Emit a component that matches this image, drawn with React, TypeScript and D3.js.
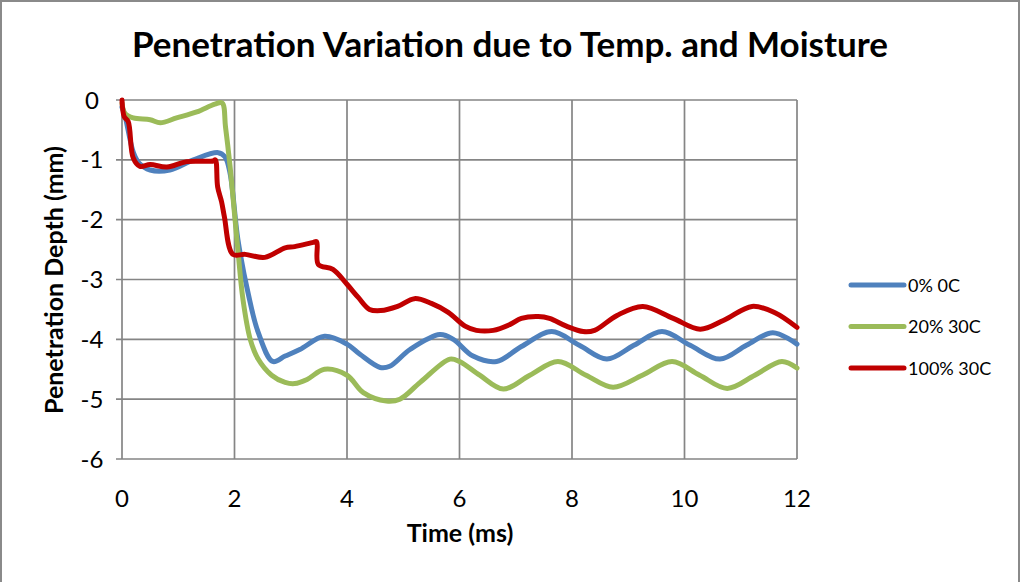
import React from "react";
import * as d3 from "d3";

// Time samples (ms) and penetration depth (mm) for each test condition
const timeDry0C = [0, 0.05, 0.2, 0.3, 0.5, 0.85, 1.27, 1.71, 1.83, 1.92, 2.06, 2.24, 2.42, 2.68, 2.9, 3.16, 3.6, 4.0, 4.23, 4.59, 4.76, 5.12, 5.65, 5.89, 6.24, 6.66, 7.1, 7.64, 8.13, 8.62, 9.1, 9.6, 10.1, 10.63, 11.1, 11.57, 12];
const depthDry0C = [-0.12, -0.25, -0.87, -1.05, -1.17, -1.17, -1.0, -0.88, -0.95, -1.22, -2.33, -3.22, -3.88, -4.37, -4.28, -4.17, -3.95, -4.08, -4.25, -4.47, -4.45, -4.17, -3.92, -4.0, -4.28, -4.37, -4.12, -3.87, -4.1, -4.33, -4.1, -3.87, -4.1, -4.33, -4.1, -3.89, -4.08];

const time20pct30C = [0, 0.05, 0.2, 0.5, 0.68, 0.97, 1.33, 1.65, 1.78, 1.84, 1.92, 2.0, 2.06, 2.15, 2.28, 2.42, 2.66, 2.9, 3.07, 3.29, 3.6, 4.0, 4.29, 4.7, 4.94, 5.3, 5.83, 6.0, 6.36, 6.78, 7.25, 7.75, 8.25, 8.73, 9.25, 9.78, 10.27, 10.76, 11.25, 11.73, 12];
const depth20pct30C = [-0.05, -0.22, -0.3, -0.33, -0.38, -0.3, -0.2, -0.07, -0.05, -0.45, -1.1, -1.9, -2.5, -3.33, -4.0, -4.33, -4.6, -4.72, -4.74, -4.67, -4.5, -4.6, -4.89, -5.03, -5.0, -4.72, -4.33, -4.37, -4.6, -4.83, -4.6, -4.37, -4.6, -4.8, -4.6, -4.37, -4.6, -4.82, -4.6, -4.37, -4.48];

const time100pct30C = [0, 0.04, 0.11, 0.2, 0.32, 0.5, 0.8, 1.15, 1.62, 1.66, 1.7, 1.77, 1.82, 1.97, 2.19, 2.54, 2.9, 3.07, 3.4, 3.46, 3.49, 3.75, 4.0, 4.2, 4.4, 4.6, 4.9, 5.2, 5.5, 5.8, 6.1, 6.3, 6.6, 6.9, 7.1, 7.4, 7.6, 7.9, 8.2, 8.4, 8.8, 9.26, 9.8, 10.28, 10.7, 11.2, 11.6, 12];
const depth100pct30C = [0, -0.28, -0.36, -0.97, -1.11, -1.08, -1.12, -1.03, -1.02, -1.0, -1.45, -1.7, -1.95, -2.58, -2.58, -2.63, -2.47, -2.45, -2.38, -2.37, -2.75, -2.83, -3.08, -3.3, -3.5, -3.52, -3.45, -3.32, -3.4, -3.55, -3.78, -3.85, -3.85, -3.75, -3.65, -3.62, -3.65, -3.78, -3.87, -3.85, -3.6, -3.45, -3.65, -3.83, -3.68, -3.45, -3.55, -3.8];

const seriesNames = ["0% 0C", "20% 30C", "100% 30C"];
const seriesColors = ["#4F81BD", "#9BBB59", "#C00000"];
const xTicks = [0, 2, 4, 6, 8, 10, 12];
const yTicks = [0, -1, -2, -3, -4, -5, -6];

const W = 1020;
const H = 582;
const plot = { left: 122, right: 797, top: 100, bottom: 459 };
const FONT = "Lato, 'Open Sans', sans-serif";

export default function App() {
  const x = d3.scaleLinear().domain([0, 12]).range([plot.left, plot.right]);
  const y = d3.scaleLinear().domain([0, -6]).range([plot.top, plot.bottom]);

  const series = [
    { name: seriesNames[0], color: seriesColors[0], t: timeDry0C, v: depthDry0C },
    { name: seriesNames[1], color: seriesColors[1], t: time20pct30C, v: depth20pct30C },
    { name: seriesNames[2], color: seriesColors[2], t: time100pct30C, v: depth100pct30C },
  ];

  const line = d3
    .line<[number, number]>()
    .x((d) => x(d[0]))
    .y((d) => y(d[1]))
    .curve(d3.curveCatmullRom.alpha(0.5));

  const gridColor = "#858585";

  return (
    <svg
      width={W}
      height={H}
      style={{ position: "absolute", left: 0, top: 0, background: "#fff" }}
    >
      <rect x={1} y={1} width={W - 2} height={H + 20} fill="#fff" stroke="#8a8a8a" strokeWidth={2} />

      <text x={510} y={57} textAnchor="middle" fontFamily={FONT} fontWeight={700} fontSize={35} fill="#000">
        Penetration Variation due to Temp. and Moisture
      </text>

      {/* horizontal grid lines with small ticks left of the axis */}
      {yTicks.map((v) => (
        <line key={"h" + v} x1={plot.left - 6} x2={plot.right} y1={y(v)} y2={y(v)} stroke={gridColor} strokeWidth={1.7} />
      ))}
      {xTicks.map((t) => (
        <line key={"v" + t} x1={x(t)} x2={x(t)} y1={plot.top} y2={plot.bottom} stroke={gridColor} strokeWidth={1.7} />
      ))}

      {yTicks.map((v) => (
        <text key={"yl" + v} x={92} y={y(v) + 8.5} textAnchor="middle" fontFamily={FONT} fontSize={24} fill="#000">
          {v}
        </text>
      ))}
      {xTicks.map((t) => (
        <text key={"xl" + t} x={x(t)} y={507} textAnchor="middle" fontFamily={FONT} fontSize={24} fill="#000">
          {t}
        </text>
      ))}

      <text x={460} y={542} textAnchor="middle" fontFamily={FONT} fontWeight={700} fontSize={25} fill="#000">
        Time (ms)
      </text>
      <text
        transform={`translate(63, 280) rotate(-90)`}
        textAnchor="middle"
        fontFamily={FONT}
        fontWeight={700}
        fontSize={25}
        fill="#000"
      >
        Penetration Depth (mm)
      </text>

      {series.map((s) => (
        <path
          key={s.name}
          d={line(s.t.map((t, i) => [t, s.v[i]] as [number, number])) || ""}
          fill="none"
          stroke={s.color}
          strokeWidth={5}
          strokeLinejoin="round"
          strokeLinecap="round"
        />
      ))}

      {series.map((s, i) => {
        const ly = 285 + i * 41.5;
        return (
          <g key={"lg" + s.name}>
            <line x1={851} x2={904} y1={ly} y2={ly} stroke={s.color} strokeWidth={5} strokeLinecap="round" />
            <text x={908} y={ly + 6.5} fontFamily={FONT} fontSize={18} fill="#000">
              {s.name}
            </text>
          </g>
        );
      })}
    </svg>
  );
}
